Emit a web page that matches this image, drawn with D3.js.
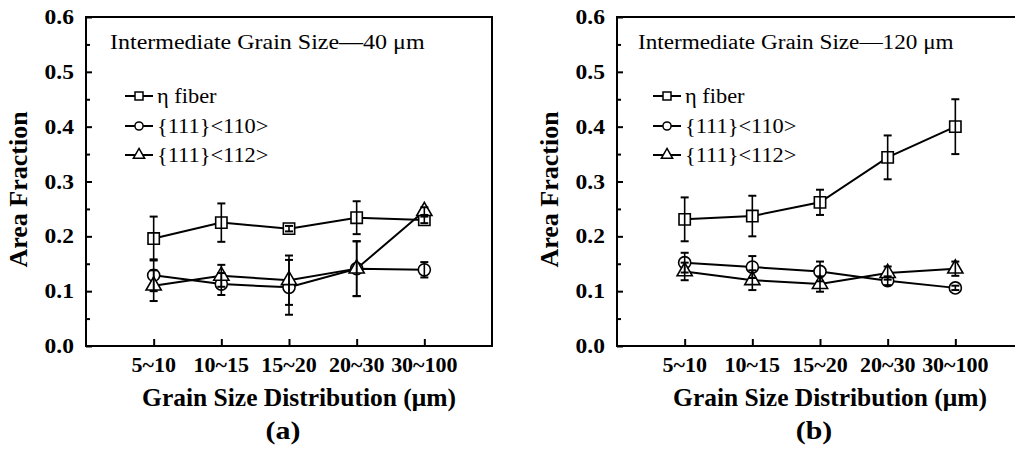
<!DOCTYPE html>
<html>
<head>
<meta charset="utf-8">
<script src="https://cdn.jsdelivr.net/npm/d3@7"></script>
<style>
  body { margin: 0; background: #fff; }
  svg { display: block; }
</style>
</head>
<body>
<div id="chart"></div>
<script>
// categories and ticks
const categories = ['5~10', '10~15', '15~20', '20~30', '30~100'];
const yTicks = [0, 0.1, 0.2, 0.3, 0.4, 0.5, 0.6];
const yMinorTicks = [0.05, 0.15, 0.25, 0.35, 0.45, 0.55];
const seriesNames = ['\u03b7 fiber', '{111}<110>', '{111}<112>'];

// panel (a) - intermediate grain size 40 um
const etaA = [0.196, 0.225, 0.214, 0.234, 0.230];
const etaErrA = [0.040, 0.035, 0.005, 0.030, 0.006];
const c110A = [0.129, 0.113, 0.107, 0.141, 0.139];
const c110ErrA = [0.029, 0.020, 0.050, 0.050, 0.014];
const c112A = [0.110, 0.128, 0.120, 0.141, 0.246];
const c112ErrA = [0.028, 0.020, 0.045, 0.050, 0.007];

// panel (b) - intermediate grain size 120 um
const etaB = [0.231, 0.237, 0.262, 0.344, 0.400];
const etaErrB = [0.040, 0.037, 0.023, 0.040, 0.050];
const c110B = [0.152, 0.144, 0.136, 0.119, 0.106];
const c110ErrB = [0.018, 0.020, 0.018, 0.008, 0.004];
const c112B = [0.136, 0.120, 0.113, 0.133, 0.141];
const c112ErrB = [0.016, 0.018, 0.014, 0.012, 0.013];

const width = 1015;
const height = 449;
const font = '"Liberation Serif", "Times New Roman", serif';
const symbols = [d3.symbolSquare, d3.symbolCircle, d3.symbolTriangle];
const markSizes = [128, 115, 100];
const legendSizes = [64, 52, 55];

const svg = d3.select('#chart').append('svg')
  .attr('width', width)
  .attr('height', height);

// text that is a bit wider than the font, as in the scan
function stext(g, x, y, str, size, weight, anchor, sx) {
  return g.append('text')
    .attr('transform', `translate(${x},${y}) scale(${sx},1)`)
    .attr('text-anchor', anchor)
    .attr('font-family', font)
    .attr('font-size', size)
    .attr('font-weight', weight)
    .attr('fill', '#000')
    .text(str);
}

function drawPanel(opts) {
  const top = 17;
  const bottom = 346;
  const left = opts.left;
  const right = opts.left + 406;

  const x = d3.scalePoint().domain(categories).range([left, right]).padding(1);
  const y = d3.scaleLinear().domain([0, 0.6]).range([bottom, top]);

  const $g = svg.append('g');

  // frame
  $g.append('rect')
    .attr('x', left).attr('y', top)
    .attr('width', right - left).attr('height', bottom - top)
    .attr('fill', 'none').attr('stroke', '#000').attr('stroke-width', 2);

  // ticks point inward
  const $yAxis = $g.append('g').attr('transform', `translate(${left},0)`)
    .call(d3.axisLeft(y).tickValues(yTicks).tickSizeInner(-6).tickSizeOuter(0).tickFormat(''));
  const $yMinor = $g.append('g').attr('transform', `translate(${left},0)`)
    .call(d3.axisLeft(y).tickValues(yMinorTicks).tickSizeInner(-4).tickSizeOuter(0).tickFormat(''));
  const $xAxis = $g.append('g').attr('transform', `translate(0,${bottom})`)
    .call(d3.axisBottom(x).tickSizeInner(-7).tickSizeOuter(0).tickFormat(''));
  [$yAxis, $yMinor, $xAxis].forEach(a => {
    a.select('.domain').remove();
    a.selectAll('line').attr('stroke', '#000').attr('stroke-width', 2);
  });

  // tick labels
  yTicks.forEach(t => {
    stext($g, left - 12, y(t) + 7, d3.format('.1f')(t), 21, 'bold', 'end', 1.12);
  });
  categories.forEach(c => {
    stext($g, x(c), 372, c, 20, 'bold', 'middle', 1.1);
  });

  // axis titles
  $g.append('text')
    .attr('transform', `translate(${left - 59},${(top + bottom) / 2 + 8}) rotate(-90)`)
    .attr('text-anchor', 'middle')
    .attr('font-family', font).attr('font-size', 26).attr('font-weight', 'bold')
    .text('Area Fraction');
  stext($g, (left + right) / 2 + 10, 406, 'Grain Size Distribution (\u03bcm)', 26, 'bold', 'middle', 0.98);
  stext($g, (left + right) / 2 - 6, 439, opts.tag, 26, 'bold', 'middle', 1.15);

  // inside title
  stext($g, left + opts.titleDx, 49, opts.title, 20, 'normal', 'start', opts.titleSx);

  // series
  const line = d3.line().x((d, i) => x(categories[i])).y(d => y(d));
  opts.series.forEach(s => {
    $g.append('path')
      .attr('d', line(s.values))
      .attr('fill', 'none').attr('stroke', '#000').attr('stroke-width', 2);
  });
  opts.series.forEach((s, k) => {
    const sym = d3.symbol().type(symbols[k]).size(markSizes[k]);
    $g.selectAll(null).data(s.values).enter().append('path')
      .attr('d', sym)
      .attr('transform', (d, i) => `translate(${x(categories[i])},${y(d)})`)
      .attr('fill', '#fff').attr('stroke', '#000').attr('stroke-width', 1.6);
  });
  opts.series.forEach(s => {
    s.values.forEach((v, i) => {
      const cx = x(categories[i]);
      const e = s.errors[i];
      $g.append('line')
        .attr('x1', cx).attr('x2', cx).attr('y1', y(v + e)).attr('y2', y(v - e))
        .attr('stroke', '#000').attr('stroke-width', 1.6);
      [v + e, v - e].forEach(w => {
        $g.append('line')
          .attr('x1', cx - 4).attr('x2', cx + 4).attr('y1', y(w)).attr('y2', y(w))
          .attr('stroke', '#000').attr('stroke-width', 2);
      });
    });
  });

  // legend
  const legendRows = [96, 126, 155];
  seriesNames.forEach((name, k) => {
    const lx = left + opts.legendDx;
    const ly = legendRows[k];
    $g.append('line')
      .attr('x1', lx).attr('x2', lx + 28).attr('y1', ly).attr('y2', ly)
      .attr('stroke', '#000').attr('stroke-width', 2);
    $g.append('path')
      .attr('d', d3.symbol().type(symbols[k]).size(legendSizes[k]))
      .attr('transform', `translate(${lx + 14},${ly})`)
      .attr('fill', '#fff').attr('stroke', '#000').attr('stroke-width', 1.5);
    stext($g, lx + 32, ly + 7, name, 20, 'normal', 'start', 1.12);
  });
}

drawPanel({
  left: 86,
  title: 'Intermediate Grain Size\u201440 \u03bcm',
  titleDx: 24,
  titleSx: 1.2,
  legendDx: 39,
  tag: '(a)',
  series: [
    { values: etaA, errors: etaErrA },
    { values: c110A, errors: c110ErrA },
    { values: c112A, errors: c112ErrA }
  ]
});

drawPanel({
  left: 617,
  title: 'Intermediate Grain Size\u2014120 \u03bcm',
  titleDx: 21,
  titleSx: 1.16,
  legendDx: 36,
  tag: '(b)',
  series: [
    { values: etaB, errors: etaErrB },
    { values: c110B, errors: c110ErrB },
    { values: c112B, errors: c112ErrB }
  ]
});
</script>
</body>
</html>
